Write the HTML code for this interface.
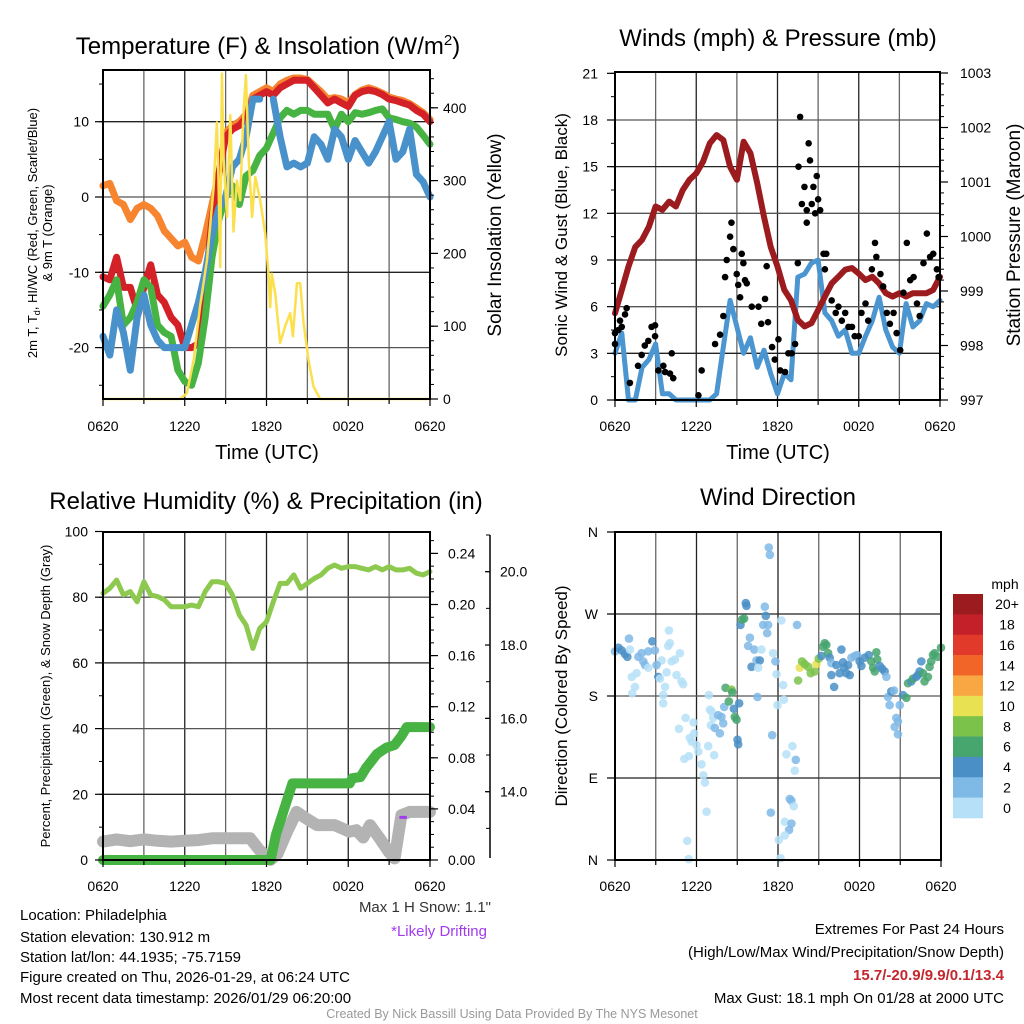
<!DOCTYPE html>
<html><head><meta charset="utf-8">
<style>
html,body{margin:0;padding:0;background:#fff;}
svg{display:block;font-family:"Liberation Sans",Arial,sans-serif;}
</style></head>
<body>
<svg id="fig" width="1024" height="1024" viewBox="0 0 1024 1024" xmlns="http://www.w3.org/2000/svg">
<rect width="1024" height="1024" fill="#fff"/>
<g id="p1"></g>
<g id="p2"></g>
<g id="p3"></g>
<g id="p4"></g>

<text x="268" y="54" font-size="24" text-anchor="middle">Temperature (F) &amp; Insolation (W/m<tspan dy="-9" font-size="15">2</tspan><tspan dy="9">)</tspan></text>
<text x="778" y="46" font-size="24" text-anchor="middle">Winds (mph) &amp; Pressure (mb)</text>
<text x="266" y="509" font-size="24" text-anchor="middle">Relative Humidity (%) &amp; Precipitation (in)</text>
<text x="778" y="505" font-size="24" text-anchor="middle">Wind Direction</text>

<text transform="translate(37,233) rotate(-90)" font-size="13" text-anchor="middle">2m T, T<tspan dy="3" font-size="9">d</tspan><tspan dy="-3">, HI/WC (Red, Green, Scarlet/Blue)</tspan></text>
<text transform="translate(52,233) rotate(-90)" font-size="13" text-anchor="middle">&amp; 9m T (Orange)</text>
<text transform="translate(501,235) rotate(-90)" font-size="19" text-anchor="middle">Solar Insolation (Yellow)</text>
<text x="267" y="459" font-size="20" text-anchor="middle">Time (UTC)</text>
<text transform="translate(567,235) rotate(-90)" font-size="17" text-anchor="middle">Sonic Wind &amp; Gust (Blue, Black)</text>
<text transform="translate(1020,235) rotate(-90)" font-size="19" text-anchor="middle">Station Pressure (Maroon)</text>
<text x="778" y="459" font-size="20" text-anchor="middle">Time (UTC)</text>
<text transform="translate(50,696) rotate(-90)" font-size="13" text-anchor="middle">Percent, Precipitation (Green), &amp; Snow Depth (Gray)</text>
<text transform="translate(567,696) rotate(-90)" font-size="17" text-anchor="middle">Direction (Colored By Speed)</text>

<g font-size="15">
<text x="20" y="920">Location: Philadelphia</text>
<text x="20" y="942">Station elevation: 130.912 m</text>
<text x="20" y="962">Station lat/lon: 44.1935; -75.7159</text>
<text x="20" y="982">Figure created on Thu, 2026-01-29, at 06:24 UTC</text>
<text x="20" y="1003">Most recent data timestamp: 2026/01/29 06:20:00</text>
</g>
<text x="491" y="912" font-size="15" text-anchor="end" fill="#333">Max 1 H Snow: 1.1"</text>
<text x="487" y="936" font-size="15" text-anchor="end" fill="#a23bf0">*Likely Drifting</text>
<g font-size="15" text-anchor="end">
<text x="1004" y="934">Extremes For Past 24 Hours</text>
<text x="1004" y="957">(High/Low/Max Wind/Precipitation/Snow Depth)</text>
<text x="1004" y="980" fill="#c4262e" font-weight="bold">15.7/-20.9/9.9/0.1/13.4</text>
<text x="1004" y="1003">Max Gust: 18.1 mph On 01/28 at 2000 UTC</text>
</g>
<text x="512" y="1018" font-size="12.5" text-anchor="middle" fill="#999">Created By Nick Bassill Using Data Provided By The NYS Mesonet</text>
</svg>
<script>
// ---------------- DATA ----------------
const timeTickLabels = ["0620","1220","1820","0020","0620"];
const halfHours = [0,0.5,1,1.5,2,2.5,3,3.5,4,4.5,5,5.5,6,6.5,7,7.5,8,8.5,9,9.5,10,10.5,11,11.5,12,12.5,13,13.5,14,14.5,15,15.5,16,16.5,17,17.5,18,18.5,19,19.5,20,20.5,21,21.5,22,22.5,23,23.5,24];
// Panel 1
const tempTicks = [10,0,-10,-20];
const solarTicks = [0,100,200,300,400];
const tempRed = [-10.6,-11,-8,-12,-12,-15,-12,-9,-13,-14,-16,-17,-20,-20,-19.5,-12,-3,3,8,9,9.5,10.5,13,13.5,14,13.5,14.5,15,15.5,15.5,15.5,14.5,13.5,12.5,13,12.5,12,13.5,14,14.2,14,13.6,13,12.8,12.5,12.2,11.5,11,10];
const temp9mOrange = [1.5,1.8,-0.5,-1,-3,-1.5,-1,-1.5,-2.5,-4.5,-5.5,-6.5,-6,-8,-8.5,-5,-1,3,8.5,9.5,10,11,13.5,14,14.5,14,15,15.5,15.8,15.8,15.6,14.8,14,13,13.2,13,12.5,13.6,14.2,14.5,14.2,13.8,13.3,13,12.8,12.4,11.8,11.2,10.3];
const dewGreen = [-14.5,-13,-11,-17,-16,-14,-11,-12,-17,-18,-18.5,-23,-24.5,-25,-22,-16,-8,-3,0,1.5,-1,2.8,3.5,5.5,6.5,8.5,10.5,11.5,11,11.5,11.5,11,11,11,9,11,10,11.2,11,11.2,11.5,11.7,10.5,10.3,10,9.8,9.3,8.2,7];
const windChillBlue = [-18.5,-21,-15,-18,-23,-16,-13,-17,-19,-20,-20,-20,-20,-17,-14,-10,-5,-1.5,0,4,5,8,13,13,null,13,8,4,4.5,4,4.5,8,7,5,9,8,5,7.5,6,4.5,6,8,10,5,6,9,3,2,0];
const solarHours = [0,5.67,6.16,6.65,7.14,7.63,8.12,8.36,8.48,8.6,8.73,8.85,9.1,9.34,9.58,9.83,10.07,10.3,10.49,10.7,10.94,11.18,11.54,11.9,12.15,12.27,12.39,12.64,13.0,13.37,13.74,13.94,14.23,14.47,14.72,15.09,15.45,15.94,24];
const solarValues = [0,0,8,53,130,191,290,380,300,181,447,330,250,390,230,300,273,388,445,328,250,305,273,228,172,126,172,145,77,100,118,86,159,159,104,53,17,0,0];
// Panel 2
const windTicks = [0,3,6,9,12,15,18,21];
const pressTicks = [997,998,999,1000,1001,1002,1003];
const windBlue = [3,4.3,0,0,2.1,2.6,3.6,0.4,0.4,0,0,0,0,0,0,0.4,3.4,6.4,4.7,3,4,2.1,3.2,1.7,0.4,1.7,1.3,7.9,8.1,8.8,9,5.6,5.1,4.1,4.5,3,3,4.1,5.1,6.6,4.5,3.4,3,6.2,4.7,5.1,6.2,6,6.4];
const pressure = [998.59,999.02,999.45,999.81,999.94,1000.18,1000.55,1000.49,1000.64,1000.55,1000.85,1001.04,1001.16,1001.37,1001.71,1001.86,1001.77,1001.28,1001.04,1001.74,1001.53,1000.98,1000.36,999.81,999.45,999.02,998.83,998.47,998.35,998.41,998.65,998.9,999.14,999.26,999.39,999.42,999.32,999.2,999.26,999.14,998.96,998.9,998.96,998.9,998.96,998.96,998.96,999.02,999.26];
const gustHours = [0,0.25,0.5,0.74,0.86,0,0.37,1.1,1.7,1.97,2.2,2.46,2.7,2.96,2.96,3.2,3.57,3.7,4.06,4.19,4.3,6.4,6.16,7.39,7.76,8,8.13,8.25,8.5,8.6,8.74,8.99,9.1,9.24,9.36,9.48,9.6,9.73,10.1,10.6,10.8,11.08,11.2,11.3,11.6,11.8,12.07,12.2,12.56,12.8,13.05,13.3,13.5,13.55,13.67,13.8,13.99,14.16,14.3,14.4,14.53,14.65,14.78,14.9,15.0,15.15,14.16,15.4,15.6,15.5,16,16.3,16.5,16.75,17,17.24,17.5,17.7,18,18.2,18.5,18.7,18.97,19.2,19.3,19.6,19.8,20.07,20.3,20.57,20.8,21.06,21.3,21.55,21.8,22.05,22.3,22.5,22.78,23.03,23.27,23.5,23.77,23.9];
const gustSpeeds = [4.3,4.5,4.7,5.5,5.9,3.6,5.1,1.1,2.2,2.9,3.5,3.8,4.7,4.8,4.1,1.9,2.2,1.8,1.7,3,1.4,1.9,0.3,3.6,4.2,5.4,7.9,9,10.5,11.4,9.7,8.1,7.4,6.6,9.4,8.8,7.7,7.5,6,6,4.9,6.5,8.6,5,3.4,2.6,3.9,1.9,1.8,3,3,3.6,8.8,15,18.2,12.6,13.7,12.2,16.5,15.4,12.6,13.7,12,14.4,12.9,12.2,11.4,9.4,9.4,8.4,6.4,5.6,6,5.1,5.6,4.7,4.7,4.1,4.1,5.6,6.2,5.1,8.4,10.1,9.2,8.1,7.3,5.6,4.9,5.6,4.3,3.2,6.9,10.1,7.7,7.9,6.2,5.4,8.8,10.7,9.2,9.4,8.4,7.9];
// Panel 3
const rhTicks = [0,20,40,60,80,100];
const precipTicks = [0,0.04,0.08,0.12,0.16,0.20,0.24];
const snowTicks = [14,16,18,20];
const relHumidity = [81.2,82.7,85.2,80.7,81.7,78.6,84.7,80.7,80.2,79.2,77.1,77.1,77.1,77.6,77.1,81.7,84.7,84.7,84.2,80.7,74.6,71.5,64.4,70.5,72.5,78.6,84.2,84.2,86.8,82.7,84.2,85.7,86.8,88.8,89.8,88.8,89.3,89.3,88.8,88.3,89.3,88.3,89.3,88.3,88.3,88.8,87.3,86.8,87.8];
const precipHours = [0,12.3,12.7,13.0,13.9,18.1,18.3,18.9,19.3,20.1,20.8,21.4,21.9,22.3,24];
const precipValues = [0,0,0.02,0.03,0.06,0.06,0.064,0.065,0.072,0.083,0.088,0.09,0.097,0.104,0.104];
const snowHours = [0,1,2,3,4,5,6,7,8,9,10.8,11.5,12.3,12.8,13.5,14.2,14.8,15.7,17,18.1,18.6,19.1,19.6,20.3,21.0,21.4,21.9,22.5,24];
const snowDepth = [12.64,12.7,12.65,12.7,12.66,12.64,12.66,12.68,12.73,12.73,12.73,12.4,12.14,12.3,12.9,13.45,13.3,13.09,13.09,12.91,12.95,12.75,13.09,12.73,12.35,12.18,13.36,13.45,13.45];
const driftHours = [21.85,22.2];
const driftDepth = [13.3,13.3];
// Panel 4
const dirTickLabels = ["N","E","S","W","N"];
const dirTickValues = [0,90,180,270,360];
const speedBinLabels = ["0","2","4","6","8","10","12","14","16","18","20+"];
const speedBinColors = ["#b6e0f7","#7fb9e6","#4a8fc6","#47a56e","#7bc24a","#e8e152","#f9a743","#f26529","#e23a2a","#c3202a","#9b1b1e"];
const dirPoints = [[0.0,229,3],[0.25,233,5],[0.49,230,5],[0.74,226,5],[0.91,223,5],[1.03,243,3],[1.1,231,1],[1.72,223,3],[1.96,227,3],[2.08,218,3],[2.21,214,3],[2.45,229,3],[2.75,240,5],[2.94,230,3],[1.23,201,1],[1.47,190,1],[1.27,183,1],[1.59,205,1],[2.45,211,1],[3.43,219,1],[3.06,214,3],[3.19,201,5],[3.31,199,1],[3.68,190,1],[3.55,181,1],[3.55,172,1],[3.8,206,1],[3.97,252,1],[3.92,235,1],[4.04,238,1],[4.17,218,1],[4.41,220,1],[4.53,203,1],[4.78,227,1],[4.9,196,1],[5.02,193,1],[5.2,156,1],[4.71,144,1],[5.78,151,1],[5.51,134,1],[5.83,139,1],[5.64,130,1],[6.0,126,1],[6.13,119,1],[5.1,111,1],[5.44,114,1],[6.37,105,1],[6.5,93,1],[6.62,85,1],[6.74,53,1],[5.32,21,1],[5.42,1,1],[6.91,181,1],[6.99,165,1],[7.11,163,1],[7.23,156,1],[7.06,148,1],[7.3,115,1],[6.86,125,1],[7.35,145,3],[7.6,159,3],[7.84,157,3],[7.72,139,3],[7.97,150,3],[8.04,168,3],[8.14,189,7],[8.38,174,7],[8.58,187,9],[8.63,184,7],[8.75,166,5],[8.82,157,7],[8.95,154,7],[9.02,132,5],[9.07,127,5],[9.14,172,5],[9.24,258,5],[9.36,264,7],[9.51,265,7],[9.63,282,5],[9.68,279,5],[9.93,244,3],[9.8,235,3],[10.25,231,3],[10.42,219,3],[10.66,219,5],[10.05,212,5],[10.54,211,1],[10.78,231,1],[10.91,258,3],[11.03,278,3],[11.1,268,5],[11.2,249,3],[11.27,258,3],[11.32,343,3],[11.4,335,3],[11.64,227,1],[11.81,218,3],[11.89,204,1],[11.96,170,1],[12.25,263,1],[12.38,192,1],[12.43,176,1],[10.49,179,3],[11.57,137,3],[11.47,52,3],[12.06,22,1],[12.18,2,1],[12.5,42,1],[12.62,116,1],[12.87,67,3],[12.99,65,3],[13.16,59,1],[12.99,40,3],[12.82,33,3],[12.5,27,1],[13.06,125,1],[13.31,110,3],[13.24,98,1],[13.4,258,3],[13.48,197,9],[13.6,211,11],[13.77,218,9],[13.97,215,9],[14.22,212,9],[14.41,205,9],[14.71,207,9],[14.83,215,11],[15.0,221,9],[15.2,224,5],[15.32,234,7],[15.44,238,7],[15.56,236,7],[15.69,227,7],[15.81,222,5],[15.93,216,3],[16.3,214,5],[15.93,203,5],[16.13,190,5],[16.54,205,5],[16.67,231,5],[16.79,217,5],[16.86,211,5],[17.03,205,5],[17.16,214,5],[17.28,203,5],[17.4,222,3],[17.65,224,3],[17.82,225,3],[18.01,218,5],[18.14,213,5],[18.38,222,5],[18.68,225,5],[18.87,218,7],[19.0,211,7],[19.12,207,7],[19.24,228,7],[19.31,220,7],[19.49,213,5],[19.66,210,5],[19.85,207,5],[19.98,201,3],[20.1,179,3],[20.22,170,3],[20.34,185,5],[20.54,186,3],[20.71,156,3],[20.83,152,3],[20.59,146,3],[20.83,138,3],[20.96,170,3],[21.2,181,5],[21.45,178,7],[21.57,194,7],[21.81,196,5],[21.94,199,7],[22.18,201,5],[22.3,203,5],[22.43,207,5],[22.55,218,5],[22.67,205,7],[22.79,196,7],[23.04,201,7],[23.16,212,7],[23.28,218,7],[23.41,225,7],[23.53,227,7],[23.77,223,7],[24.0,233,7]];

// ---------------- DRAWING ----------------
const NS='http://www.w3.org/2000/svg';
function mk(parent, tag, attrs, text){
  const e=document.createElementNS(NS,tag);
  for(const k in attrs) e.setAttribute(k,attrs[k]);
  if(text!==undefined) e.textContent=text;
  parent.appendChild(e); return e;
}
function pathD(xs, ys, sx, sy){
  let d='', pen=false;
  for(let i=0;i<xs.length;i++){
    if(ys[i]===null||ys[i]===undefined){pen=false;continue;}
    d+=(pen?'L':'M')+sx(xs[i]).toFixed(1)+' '+sy(ys[i]).toFixed(1);
    pen=true;
  }
  return d;
}
function drawLine(g, xs, ys, sx, sy, color, w, name){
  const p=mk(g,'path',{d:pathD(xs,ys,sx,sy),fill:'none',stroke:color,'stroke-width':w,'stroke-linejoin':'round','stroke-linecap':'round'});
  
  
  return p;
}
function frame(g, L, T, R, B, sx, hourGrid, hGridYs){
  const grid=mk(g,'g',{});
  
  
  for(let h=3;h<24;h+=3){
    mk(grid,'line',{x1:sx(h),x2:sx(h),y1:T,y2:B,stroke:(h%6===0)?'#222':'#666','stroke-width':1.3});
  }
  hGridYs.forEach((y,i)=>mk(grid,'line',{x1:L,x2:R,y1:y,y2:y,stroke:i%2?'#555':'#222','stroke-width':1.3}));
}
function border(g,L,T,R,B){
  const r=mk(g,'rect',{x:L,y:T,width:R-L,height:B-T,fill:'none',stroke:'#000','stroke-width':2});
  
  
}
function xAxis(g, sx, B, labelY){
  const ax=mk(g,'g',{});
  
  
  for(let h=0;h<=24;h+=3){
    mk(ax,'line',{x1:sx(h),x2:sx(h),y1:B,y2:B+(h%6===0?7:5),stroke:'#000','stroke-width':1.2});
  }
  timeTickLabels.forEach((lab,i)=>{
    const t=mk(ax,'text',{x:sx(i*6),y:labelY,'font-size':14,'text-anchor':'middle'},lab);
    
    
  });
}
function yTicks(g, vals, sy, x, dir, labelFn, labX, anchor, fs, minorVals, majorLen){
  const ax=mk(g,'g',{});
  
  
  const ml = majorLen===undefined?8:majorLen;
  (minorVals||[]).forEach(v=>mk(ax,'line',{x1:x,x2:x+dir*4,y1:sy(v),y2:sy(v),stroke:'#000','stroke-width':1}));
  vals.forEach(v=>{
    mk(ax,'line',{x1:x,x2:x+dir*ml,y1:sy(v),y2:sy(v),stroke:'#000','stroke-width':1.2});
    const t=mk(ax,'text',{x:labX,y:sy(v)+5,'font-size':fs||14,'text-anchor':anchor},labelFn(v));
    
    
  });
}
function range(a,b,s){const r=[];for(let v=a;v<=b+1e-9;v+=s)r.push(+v.toFixed(4));return r;}

// ---- Panel 1 ----
(function(){
  const g=document.getElementById('p1');
  const L=103,T=70,R=430,B=399;
  const X=h=>L+h/24*(R-L), Y=v=>197-v*7.53, YS=v=>399-v*0.728;
  frame(g,L,T,R,B,X,true,tempTicks.map(Y));
  drawLine(g,halfHours,temp9mOrange,X,Y,'#f7852f',7,'9m-temperature-line');
  drawLine(g,halfHours,tempRed,X,Y,'#d42027',7,'temperature-line');
  drawLine(g,halfHours,dewGreen,X,Y,'#46b343',7,'dewpoint-line');
  drawLine(g,halfHours,windChillBlue,X,Y,'#4891cb',7,'wind-chill-line');
  drawLine(g,solarHours,solarValues,X,YS,'#fbe04e',2.5,'solar-insolation-line');
  border(g,L,T,R,B);
  xAxis(g,X,B,431);
  yTicks(g,tempTicks,Y,L,-1,v=>String(v),89,'end',14,range(-25,15,5));
  yTicks(g,solarTicks,YS,R,1,v=>String(v),443,'start',14,range(0,440,20));
})();

// ---- Panel 2 ----
(function(){
  const g=document.getElementById('p2');
  const L=615,T=72,R=940,B=400;
  const X=h=>L+h/24*(R-L), Y=s=>400-s*15.556, YP=p=>400-(p-997)*54.5;
  frame(g,L,T,R,B,X,true,windTicks.slice(1,7).map(Y));
  drawLine(g,halfHours,windBlue,X,Y,'#4b95d0',5,'sonic-wind-line');
  drawLine(g,halfHours,pressure,X,YP,'#9b1b1e',6,'pressure-line');
  const dots=mk(g,'g',{});
  
  
  gustHours.forEach((h,i)=>{
    const c=mk(dots,'circle',{cx:X(h),cy:Y(gustSpeeds[i]),r:3.3,fill:'#000'});
    
    
  });
  border(g,L,T,R,B);
  xAxis(g,X,B,431);
  yTicks(g,windTicks,Y,L,-1,v=>String(v),598,'end',14,range(0,21,1.5));
  yTicks(g,pressTicks,YP,R,1,v=>String(v),960,'start',14,range(997,1003,0.2));
})();

// ---- Panel 3 ----
(function(){
  const g=document.getElementById('p3');
  const L=103,T=532,R=430,B=860;
  const X=h=>L+h/24*(R-L), Y=v=>860-v*3.285, YPr=p=>860-p*1277.5, YSn=s=>791.7-(s-14)*36.67;
  frame(g,L,T,R,B,X,true,rhTicks.slice(1,5).map(Y));
  drawLine(g,halfHours,relHumidity,X,Y,'#8dc94f',5,'relative-humidity-line');
  drawLine(g,snowHours,snowDepth,X,YSn,'#b3b3b3',12,'snow-depth-line');
  drawLine(g,precipHours,precipValues,X,YPr,'#46b343',10,'precipitation-line');
  drawLine(g,driftHours,driftDepth,X,YSn,'#a23bf0',3,'drifting-marker');
  border(g,L,T,R,B);
  xAxis(g,X,B,891);
  yTicks(g,rhTicks,Y,L,-1,v=>String(v),88,'end',14,range(0,100,10));
  yTicks(g,precipTicks,YPr,R,1,v=>v.toFixed(2),448,'start',14,range(0,0.25,0.01));
  const sx=490;
  const sl=mk(g,'line',{x1:sx,x2:sx,y1:535,y2:858,stroke:'#000','stroke-width':1.5});
  
  
  yTicks(g,snowTicks,YSn,sx,-1,v=>v.toFixed(1),500,'start',14,range(13,21,1),5);
})();

// ---- Panel 4 ----
(function(){
  const g=document.getElementById('p4');
  const L=615,T=532,R=941,B=860;
  const X=h=>L+h/24*(R-L), Y=d=>860-d/360*328;
  frame(g,L,T,R,B,X,true,[90,180,270].map(Y));
  const pts=mk(g,'g',{'fill-opacity':0.85});
  
  
  dirPoints.forEach(p=>{
    const bin=Math.min(10,Math.floor(p[2]/2));
    const c=mk(pts,'circle',{cx:X(p[0]),cy:Y(p[1]),r:4.3,fill:speedBinColors[bin]});
    
    
  });
  border(g,L,T,R,B);
  xAxis(g,X,B,891);
  yTicks(g,dirTickValues,Y,L,-1,(v)=>dirTickLabels[dirTickValues.indexOf(v)],598,'end',14,[]);
  const cb=mk(g,'g',{});
  
  
  const t0=mk(cb,'text',{x:1005,y:589,'font-size':14,'text-anchor':'middle'},'mph');
  
  
  const bh=224/speedBinColors.length;
  for(let i=0;i<speedBinColors.length;i++){
    const idx=speedBinColors.length-1-i;
    const y=594+i*bh;
    const r=mk(cb,'rect',{x:953,y:y,width:30,height:bh+0.3,fill:speedBinColors[idx]});
    
    
    const t=mk(cb,'text',{x:1007,y:y+bh/2+5,'font-size':14,'text-anchor':'middle'},speedBinLabels[idx]);
    
    
  }
})();
</script>
</body></html>
